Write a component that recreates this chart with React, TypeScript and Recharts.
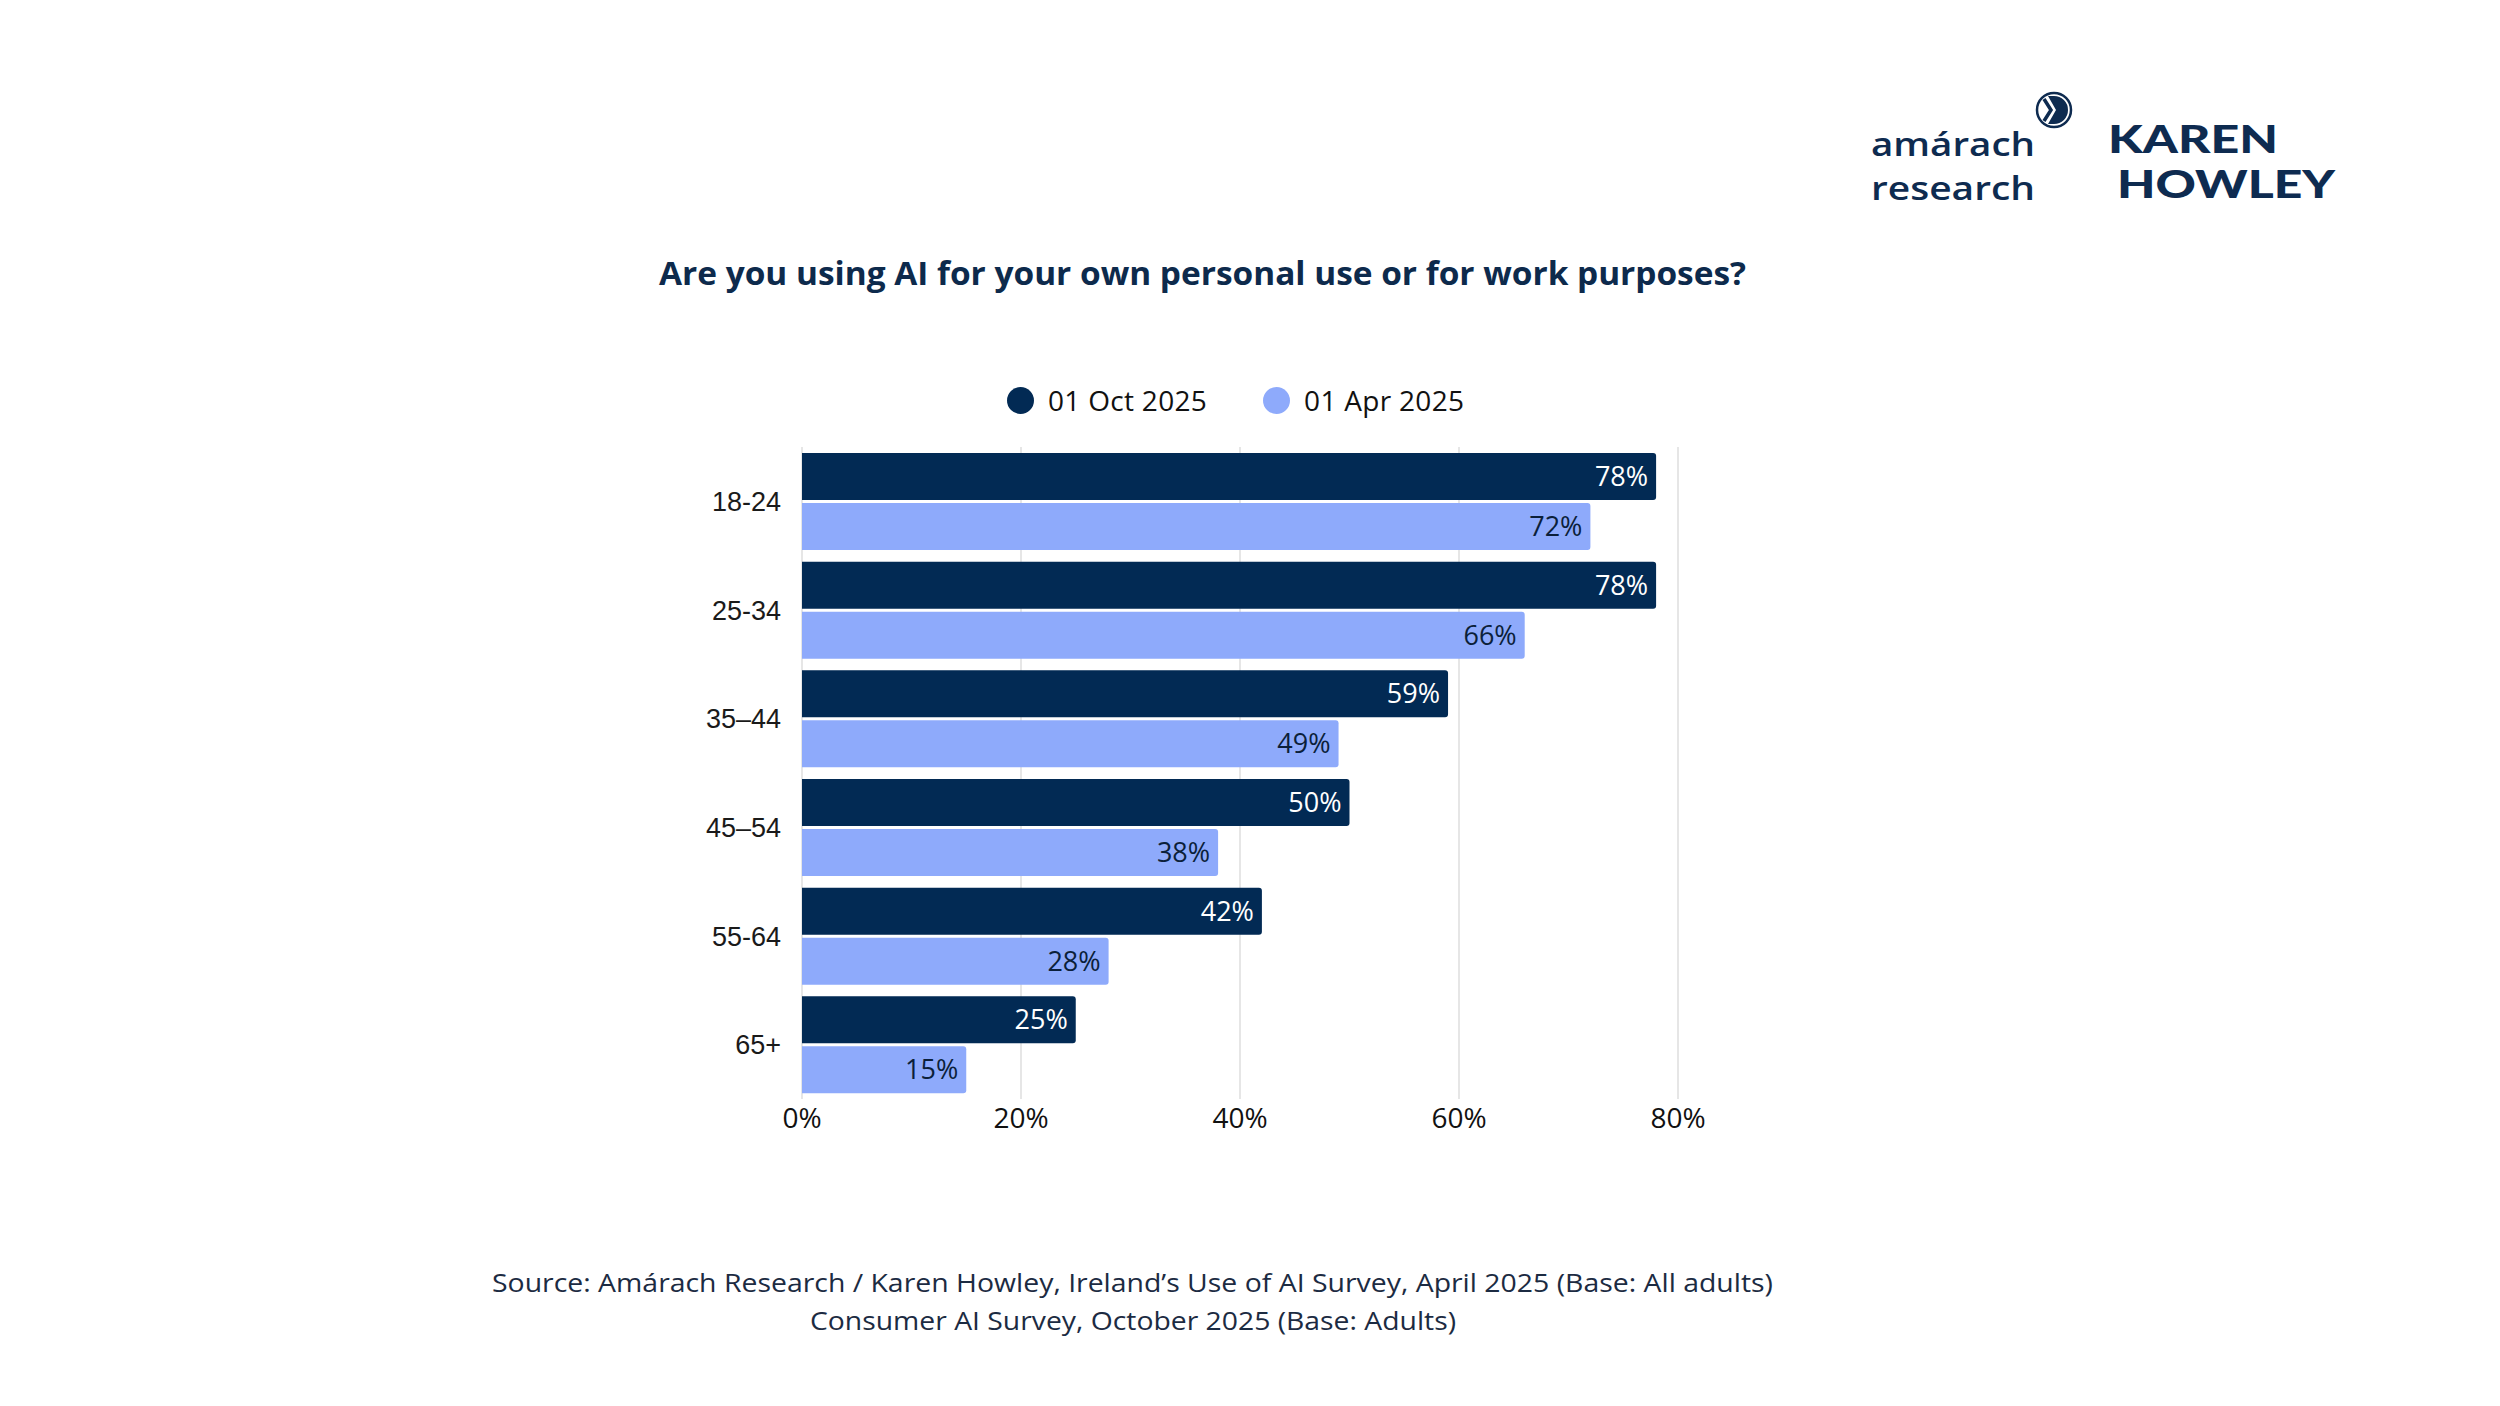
import React from "react";
import { BarChart, Bar, XAxis, YAxis, CartesianGrid, LabelList } from "recharts";

const AGE_GROUPS = ["18-24", "25-34", "35–44", "45–54", "55-64", "65+"];
const OCT_2025 = [78, 78, 59, 50, 42, 25];
const APR_2025 = [72, 66, 49, 38, 28, 15];
const X_TICKS = [0, 20, 40, 60, 80];

const SERIES = [
  { key: "oct", name: "01 Oct 2025", color: "#022a54", label: "#ffffff" },
  { key: "apr", name: "01 Apr 2025", color: "#8eaafb", label: "#0b1f3a" },
];

const TITLE = "Are you using AI for your own personal use or for work purposes?";
const SOURCE_LINES = [
  "Source: Amárach Research / Karen Howley, Ireland’s Use of AI Survey, April 2025 (Base: All adults)",
  "Consumer AI Survey, October 2025 (Base: Adults)",
];

const data = AGE_GROUPS.map((age, i) => ({ age, oct: OCT_2025[i], apr: APR_2025[i] }));

const NAVY = "#0d2a4c";
const SANS = "'Open Sans', 'Noto Sans', sans-serif";
const LOGO = "#0e2b50";

// logo words drawn as text; sizes kept small enough that the two lines don't collide
function Logos() {
  return (
    <g fill={LOGO}>
      <text x={1871} y={156} fontFamily={SANS} fontWeight={600} fontSize={32} textLength={164} lengthAdjust="spacingAndGlyphs">
        amárach
      </text>
      <text x={1871} y={200} fontFamily={SANS} fontWeight={600} fontSize={32} textLength={164} lengthAdjust="spacingAndGlyphs">
        research
      </text>
      <circle cx={2054} cy={110} r={17} fill="none" stroke={LOGO} strokeWidth={2.5} />
      <path d="M2054 96 A14 14 0 0 1 2054 124 L2048 124 L2056 110 L2048 96 Z" />
      <path d="M2044 99 L2051 110 L2044 121" fill="none" stroke={LOGO} strokeWidth={3.5} />
      <text x={2108} y={153} fontFamily="Lato, 'Open Sans', sans-serif" fontWeight={900} fontSize={37} textLength={170} lengthAdjust="spacingAndGlyphs">
        KAREN
      </text>
      <text x={2117} y={198} fontFamily="Lato, 'Open Sans', sans-serif" fontWeight={900} fontSize={37} textLength={218} lengthAdjust="spacingAndGlyphs">
        HOWLEY
      </text>
    </g>
  );
}

function ChartLegend() {
  return (
    <div
      style={{
        position: "absolute",
        left: 1007,
        top: 382,
        display: "flex",
        alignItems: "center",
        fontFamily: SANS,
        fontSize: 28,
        color: "#111",
        lineHeight: "36px",
      }}
    >
      {SERIES.map((s, i) => (
        <div key={s.key} style={{ display: "flex", alignItems: "center", marginLeft: i === 0 ? 0 : 56 }}>
          <span style={{ width: 27, height: 27, borderRadius: "50%", background: s.color, display: "inline-block", marginRight: 14 }} />
          <span style={{ letterSpacing: 0.3 }}>{s.name}</span>
        </div>
      ))}
    </div>
  );
}

export default function App() {
  return (
    <div style={{ position: "absolute", left: 0, top: 0, width: 2500, height: 1406, background: "#fff", overflow: "hidden" }}>
      <div style={{ position: "absolute", left: 0, top: 0 }}>
        <BarChart
          width={2500}
          height={1406}
          data={data}
          layout="vertical"
          margin={{ top: 447, right: 822, bottom: 277, left: 682 }}
          barSize={47}
          barGap={3}
        >
          <CartesianGrid horizontal={false} stroke="#dedede" strokeWidth={1.5} />
          <XAxis
            type="number"
            domain={[0, 80]}
            ticks={X_TICKS}
            tickFormatter={(v) => `${v}%`}
            axisLine={false}
            tickLine={false}
            tickMargin={3}
            height={30}
            tick={{ fontFamily: SANS, fontSize: 28, fill: "#111" }}
          />
          <YAxis
            type="category"
            dataKey="age"
            width={120}
            axisLine={false}
            tickLine={false}
            tickMargin={15}
            tick={{ fontFamily: "'Liberation Sans', Arial, sans-serif", fontSize: 27, fill: "#1a1a1a" }}
          />
          {SERIES.map((s) => (
            <Bar key={s.key} dataKey={s.key} name={s.name} fill={s.color} radius={[0, 3, 3, 0]} isAnimationActive={false}>
              <LabelList
                dataKey={s.key}
                position="insideRight"
                offset={8}
                formatter={(v) => `${v}%`}
                style={{ fontFamily: SANS, fontSize: 27, fill: s.label }}
              />
            </Bar>
          ))}
        </BarChart>
      </div>
      <ChartLegend />
      <svg width={2500} height={1406} style={{ position: "absolute", left: 0, top: 0, pointerEvents: "none" }}>
        <Logos />
        <text x={659} y={285} fontFamily={SANS} fontWeight={700} fontSize={33} fill={NAVY} textLength={1087} lengthAdjust="spacingAndGlyphs">
          {TITLE}
        </text>
        <text x={492} y={1292} fontFamily={SANS} fontSize={25} fill="#1c2b42" textLength={1281} lengthAdjust="spacingAndGlyphs">
          {SOURCE_LINES[0]}
        </text>
        <text x={810} y={1330} fontFamily={SANS} fontSize={25} fill="#1c2b42" textLength={646} lengthAdjust="spacingAndGlyphs">
          {SOURCE_LINES[1]}
        </text>
      </svg>
    </div>
  );
}
